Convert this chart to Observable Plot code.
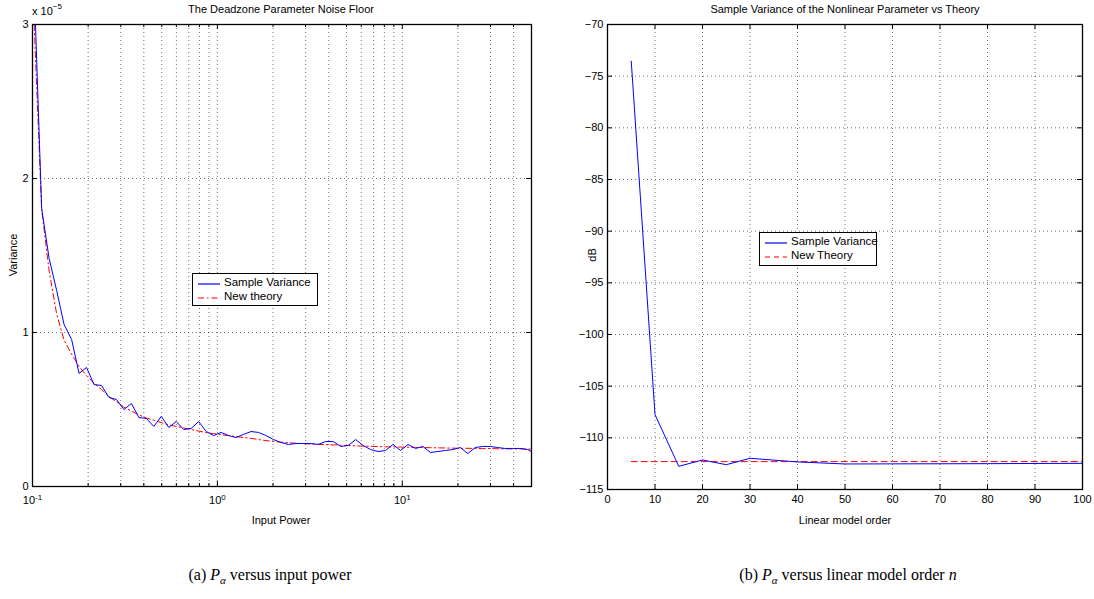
<!DOCTYPE html>
<html><head><meta charset="utf-8">
<script src="https://cdn.jsdelivr.net/npm/d3@7"></script>
<script src="https://cdn.jsdelivr.net/npm/@observablehq/plot@0.6"></script>
<style>
html,body{margin:0;padding:0;background:#fff;}
#wrap{position:relative;width:1094px;height:599px;overflow:hidden;font-family:"Liberation Sans",Arial,sans-serif;color:#000;}
.abs{position:absolute;white-space:nowrap;}
.t{font-size:11px;}
.legend{position:absolute;border:1px solid #000;background:#fff;font-size:11.5px;}
.cap{position:absolute;font-family:"Liberation Serif","Times New Roman",serif;font-size:16px;white-space:nowrap;transform:translateX(-50%);}
</style></head>
<body><div id="wrap"></div>
<script>
// ---- Data: (a) deadzone parameter noise floor (variance in units of 1e-5) ----
const inputPower = [0.1021,0.1121,0.1230,0.1351,0.1482,0.1627,0.1786,0.1960,0.2151,0.2361,0.2592,0.2844,0.3122,0.3426,0.3761,0.4128,0.4531,0.4973,0.5458,0.5991,0.6576,0.7217,0.7921,0.8694,0.9541,1.047,1.149,1.261,1.384,1.520,1.668,1.830,2.010,2.205,2.421,2.657,2.916,3.201,3.513,3.856,4.232,4.645,5.098,5.596,6.143,6.742,7.399,8.123,8.913,9.781,10.74,11.79,12.93,14.20,15.58,17.10,18.77,20.60,22.61,24.83,27.24,29.90,32.82,36.02,39.54,43.40,47.63,52.27];
const sampleVariance = [3.253,1.805,1.481,1.273,1.052,0.955,0.734,0.773,0.662,0.656,0.578,0.565,0.500,0.539,0.448,0.442,0.390,0.455,0.383,0.422,0.370,0.377,0.422,0.357,0.331,0.351,0.331,0.318,0.338,0.357,0.351,0.331,0.305,0.286,0.273,0.279,0.279,0.279,0.273,0.292,0.292,0.260,0.266,0.305,0.266,0.240,0.227,0.234,0.273,0.234,0.273,0.247,0.260,0.221,0.227,0.234,0.240,0.253,0.214,0.253,0.260,0.260,0.253,0.247,0.247,0.247,0.240,0.214];
const newTheory = [3.00,1.80,1.40,1.12,0.95,0.86,0.78,0.72,0.67,0.63,0.585,0.55,0.515,0.49,0.465,0.445,0.43,0.415,0.40,0.39,0.38,0.37,0.36,0.35,0.343,0.337,0.33,0.324,0.318,0.313,0.305,0.298,0.292,0.288,0.284,0.281,0.278,0.276,0.274,0.272,0.270,0.268,0.266,0.264,0.262,0.261,0.259,0.258,0.257,0.256,0.255,0.254,0.253,0.252,0.251,0.250,0.249,0.248,0.248,0.247,0.246,0.246,0.245,0.245,0.244,0.244,0.243,0.243];
const powerMajorTicks = [0.1, 1, 10];
const powerMinorTicks = [0.2,0.3,0.4,0.5,0.6,0.7,0.8,0.9,2,3,4,5,6,7,8,9,20,30,40];
const varianceTicks = [0, 1, 2, 3];

// ---- Data: (b) nonlinear parameter variance vs linear model order (dB) ----
const modelOrder = [5,10,15,20,25,30,40,50,60,70,80,90,100];
const sampleVarianceDb = [-73.55,-107.75,-112.76,-112.14,-112.6,-111.98,-112.33,-112.53,-112.52,-112.51,-112.5,-112.48,-112.47];
const newTheoryDb = [-112.3,-112.3,-112.3,-112.3,-112.3,-112.3,-112.3,-112.3,-112.3,-112.3,-112.3,-112.3,-112.3];
const orderTicks = [0,10,20,30,40,50,60,70,80,90,100];
const dbTicks = [-115,-110,-105,-100,-95,-90,-85,-80,-75,-70];

const BLUE = "#0000ff", RED = "#ff0000";
const gridStyle = {stroke: "#000", strokeOpacity: 0.55, strokeDasharray: "1,3", strokeWidth: 1};

const wrap = document.getElementById("wrap");

function supFix(svg) {
  svg.querySelectorAll("text").forEach(t => {
    const m = /^10\^(-?\d+)$/.exec(t.textContent.replace("−", "-"));
    if (m) {
      while (t.firstChild) t.removeChild(t.firstChild);
      const a = document.createElementNS("http://www.w3.org/2000/svg", "tspan");
      a.textContent = "10";
      const b = document.createElementNS("http://www.w3.org/2000/svg", "tspan");
      b.textContent = m[1];
      b.setAttribute("dy", "-0.55em");
      b.setAttribute("font-size", "8");
      t.appendChild(a); t.appendChild(b);
    }
  });
}

// ---------- Left chart ----------
const L = {w: 545, h: 540, ml: 32, mr: 14, mt: 24, mb: 54};
const Lih = L.h - L.mt - L.mb, Liw = L.w - L.ml - L.mr;
const lData = inputPower.map((x, i) => ({x, s: sampleVariance[i], t: newTheory[i]}));
const left = Plot.plot({
  width: L.w, height: L.h, marginLeft: L.ml, marginRight: L.mr, marginTop: L.mt, marginBottom: L.mb,
  style: {fontFamily: '"Liberation Sans", Arial, sans-serif', fontSize: "11px", background: "transparent", overflow: "visible"},
  x: {type: "log", domain: [0.1, 50], axis: null},
  y: {domain: [0, 3], axis: null},
  marks: [
    Plot.ruleX(powerMinorTicks.concat([1, 10]), {x: d => d, ...gridStyle}),
    Plot.ruleY([1, 2], {y: d => d, ...gridStyle}),
    Plot.line(lData, {x: "x", y: "t", stroke: RED, strokeWidth: 1, strokeDasharray: "6,3,1.5,3", clip: true}),
    Plot.line(lData, {x: "x", y: "s", stroke: BLUE, strokeWidth: 1, clip: true}),
    Plot.tickX(powerMajorTicks, {x: d => d, insetTop: Lih - 5, stroke: "#000"}),
    Plot.tickX(powerMajorTicks, {x: d => d, insetBottom: Lih - 5, stroke: "#000"}),
    Plot.tickX(powerMinorTicks, {x: d => d, insetTop: Lih - 3, stroke: "#000"}),
    Plot.tickX(powerMinorTicks, {x: d => d, insetBottom: Lih - 3, stroke: "#000"}),
    Plot.tickY(varianceTicks, {y: d => d, insetRight: Liw - 5, stroke: "#000"}),
    Plot.tickY(varianceTicks, {y: d => d, insetLeft: Liw - 5, stroke: "#000"}),
    Plot.axisX(powerMajorTicks, {tickSize: 0, tickPadding: 10, label: null, tickFormat: d => "10^" + Math.round(Math.log10(d))}),
    Plot.axisY(varianceTicks, {tickSize: 0, tickPadding: 4, label: null, tickFormat: d => String(d)}),
    Plot.frame({stroke: "#000", strokeWidth: 1.3})
  ]
});
supFix(left);
left.style.position = "absolute"; left.style.left = "0px"; left.style.top = "0px";
wrap.appendChild(left);

// ---------- Right chart ----------
const R = {x0: 545, w: 549, h: 540, ml: 62, mr: 12, mt: 24, mb: 51};
const Rih = R.h - R.mt - R.mb, Riw = R.w - R.ml - R.mr;
const rData = modelOrder.map((x, i) => ({x, s: sampleVarianceDb[i], t: newTheoryDb[i]}));
const right = Plot.plot({
  width: R.w, height: R.h, marginLeft: R.ml, marginRight: R.mr, marginTop: R.mt, marginBottom: R.mb,
  style: {fontFamily: '"Liberation Sans", Arial, sans-serif', fontSize: "11px", background: "transparent", overflow: "visible"},
  x: {domain: [0, 100], axis: null},
  y: {domain: [-115, -70], axis: null},
  marks: [
    Plot.ruleX(orderTicks.slice(1, -1), {x: d => d, ...gridStyle}),
    Plot.ruleY(dbTicks.slice(1, -1), {y: d => d, ...gridStyle}),
    Plot.line(rData, {x: "x", y: "t", stroke: RED, strokeWidth: 1, strokeDasharray: "6,4"}),
    Plot.line(rData, {x: "x", y: "s", stroke: BLUE, strokeWidth: 1}),
    Plot.tickX(orderTicks, {x: d => d, insetTop: Rih - 5, stroke: "#000"}),
    Plot.tickX(orderTicks, {x: d => d, insetBottom: Rih - 5, stroke: "#000"}),
    Plot.tickY(dbTicks, {y: d => d, insetRight: Riw - 5, stroke: "#000"}),
    Plot.tickY(dbTicks, {y: d => d, insetLeft: Riw - 5, stroke: "#000"}),
    Plot.axisX(orderTicks, {tickSize: 0, tickPadding: 6, label: null, tickFormat: d => String(d)}),
    Plot.axisY(dbTicks, {tickSize: 0, tickPadding: 4, label: null, tickFormat: d => String(d).replace("-", "\u2212")}),
    Plot.frame({stroke: "#000", strokeWidth: 1.3})
  ]
});
right.style.position = "absolute"; right.style.left = R.x0 + "px"; right.style.top = "0px";
wrap.appendChild(right);

// ---------- Text decorations ----------
function addDiv(html, css, cls) {
  const d = document.createElement("div");
  d.className = cls || "abs t";
  d.innerHTML = html;
  Object.assign(d.style, css);
  wrap.appendChild(d);
  return d;
}
addDiv("The Deadzone Parameter Noise Floor", {left: "281px", top: "3px", transform: "translateX(-50%)"});
addDiv("Sample Variance of the Nonlinear Parameter vs Theory", {left: "845px", top: "3px", transform: "translateX(-50%)"});
addDiv('x 10<sup style="font-size:8px;position:relative;top:-1px">\u22125</sup>', {left: "32px", top: "3px"});
addDiv("Input Power", {left: "281px", top: "514px", transform: "translateX(-50%)"});
addDiv("Linear model order", {left: "845px", top: "514px", transform: "translateX(-50%)"});
addDiv("Variance", {left: "13px", top: "255px", transform: "translate(-50%,-50%) rotate(-90deg)"});
addDiv("dB", {left: "592px", top: "255px", transform: "translate(-50%,-50%) rotate(-90deg)"});

function legend(x, y, w, h, items) {
  const d = document.createElement("div");
  d.className = "legend";
  Object.assign(d.style, {left: x + "px", top: y + "px", width: w + "px", height: h + "px"});
  const ns = "http://www.w3.org/2000/svg";
  items.forEach((it, i) => {
    const s = document.createElementNS(ns, "svg");
    s.setAttribute("width", "22"); s.setAttribute("height", "8");
    Object.assign(s.style, {position: "absolute", left: "5px", top: (6 + i * 14) + "px"});
    const l = document.createElementNS(ns, "line");
    l.setAttribute("x1", "0"); l.setAttribute("x2", "22"); l.setAttribute("y1", "4"); l.setAttribute("y2", "4");
    l.setAttribute("stroke", it.color); l.setAttribute("stroke-width", "1.2");
    if (it.dash) l.setAttribute("stroke-dasharray", it.dash);
    s.appendChild(l); d.appendChild(s);
    const t = document.createElement("div");
    t.textContent = it.label;
    Object.assign(t.style, {position: "absolute", left: "31px", top: (2 + i * 14) + "px", whiteSpace: "nowrap"});
    d.appendChild(t);
  });
  wrap.appendChild(d);
}
legend(192, 273, 124, 31, [{color: BLUE, label: "Sample Variance"}, {color: RED, label: "New theory", dash: "6,3,1.5,3"}]);
legend(759, 232, 116, 32, [{color: BLUE, label: "Sample Variance"}, {color: RED, label: "New Theory", dash: "5,4"}]);

addDiv('(a) <i>P</i><sub style="font-size:11px"><i>α</i></sub> versus input power', {left: "270px", top: "566px"}, "cap");
addDiv('(b) <i>P</i><sub style="font-size:11px"><i>α</i></sub> versus linear model order <i>n</i>', {left: "848px", top: "566px"}, "cap");
</script>
</body></html>
